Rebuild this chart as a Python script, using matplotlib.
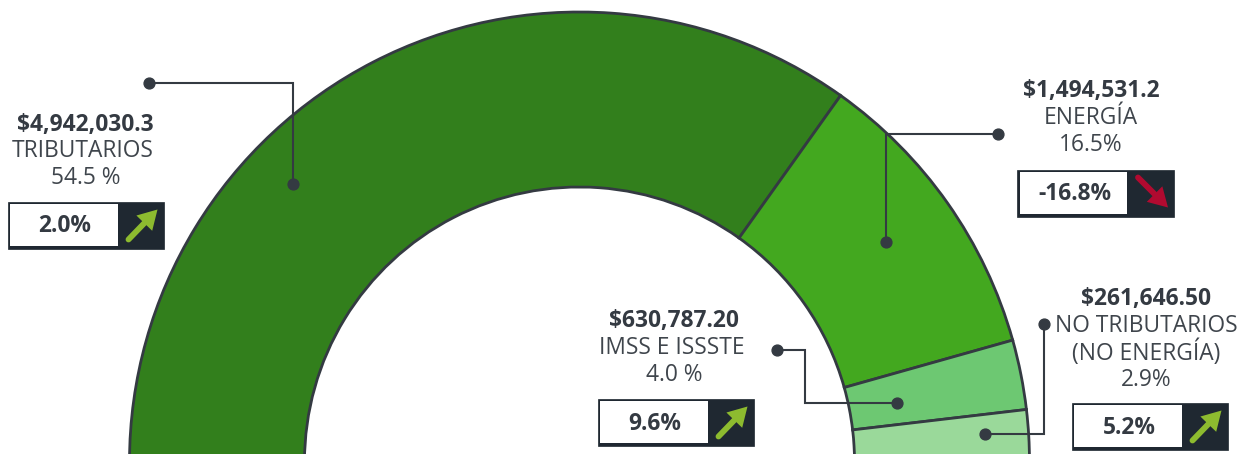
import matplotlib
matplotlib.use('Agg')
import matplotlib.pyplot as plt
import numpy as np
from matplotlib.patches import Rectangle

plt.rcParams['font.family'] = ['Open Sans', 'DejaVu Sans']

# Data
names = ['TRIBUTARIOS', 'ENERGÍA', 'IMSS E ISSSTE', 'NO TRIBUTARIOS\n(NO ENERGÍA)']
amounts = ['$4,942,030.3', '$1,494,531.2', '$630,787.20', '$261,646.50']
shares = [54.3, 16.8, 3.9, 2.9]
share_labels = ['54.5 %', '16.5%', '4.0 %', '2.9%']
changes = ['2.0%', '-16.8%', '9.6%', '5.2%']
colors = ['#327F1C', '#43A81F', '#6DC872', '#9AD99A']

INK = '#343A42'
SOFT = '#3F454C'
BOX = '#1F2831'
UP = '#8DBB2F'
DOWN = '#B10A30'

fig = plt.figure(figsize=(12.4, 4.54), dpi=100)
ax = fig.add_axes([0, 0, 1, 1])


def Y(y):
    # picture rows count from the top
    return 454 - y


# half doughnut, the other half of the pie is hidden
wedges, _ = ax.pie(shares + [sum(shares)], colors=colors + ['none'], startangle=180,
                   counterclock=False, center=(579.5, Y(462)), radius=450, frame=True,
                   wedgeprops=dict(width=175, edgecolor=INK, linewidth=2.0))
wedges[-1].set_visible(False)

ax.set_xlim(0, 1240)
ax.set_ylim(0, 454)
ax.set_aspect('equal')
ax.axis('off')


def leader(xs, ys):
    ax.plot(xs, [Y(v) for v in ys], color=INK, lw=1.5, zorder=5, solid_joinstyle='miter')
    ax.plot([xs[0], xs[-1]], [Y(ys[0]), Y(ys[-1])], ls='none', marker='o', ms=7.8,
            color=INK, zorder=6)


leader([149, 292.5, 292.5], [83, 83, 184])
leader([998, 886, 886], [134, 134, 242])
leader([777, 805, 805, 897], [350, 350, 403, 403])
leader([1044, 1044, 985], [324, 434, 434])


def label(cx, ytop, amount, name, share, name_dx=0):
    ax.text(cx, Y(ytop + 2.5), amount, ha='center', va='center', fontsize=16.4, fontweight='bold', color=INK)
    lines = name.split('\n')
    y = ytop + 29
    for line in lines:
        ax.text(cx + name_dx, Y(y), line, ha='center', va='center', fontsize=16.4, color=SOFT)
        y += 27
    ax.text(cx, Y(y), share, ha='center', va='center', fontsize=16.4, color=SOFT)


label(85.5, 122, amounts[0], names[0], share_labels[0], name_dx=-2.5)
label(1091, 89, amounts[1], names[1], share_labels[1])
label(674, 319, amounts[2], names[2], share_labels[2], name_dx=-2.5)
label(1146, 297, amounts[3], names[3], share_labels[3])


def arrow(start, end, col):
    # round-ended shaft plus a triangular head, in pixels of the picture
    p0 = np.array([start[0], Y(start[1])], dtype=float)
    p1 = np.array([end[0], Y(end[1])], dtype=float)
    unit = (p1 - p0) / np.hypot(*(p1 - p0))
    side = np.array([-unit[1], unit[0]])
    base = p1 - unit * 19
    ax.plot([p0[0], base[0]], [p0[1], base[1]], color=col, lw=4.2, solid_capstyle='round', zorder=6)
    head = np.array([p1, base + side * 11, base - side * 11])
    ax.fill(head[:, 0], head[:, 1], color=col, lw=0, zorder=6)


def badge(x0, y0, text, up=True):
    # white box with the change, dark square with the arrow
    ax.add_patch(Rectangle((x0, Y(y0 + 47)), 156.5, 47, fc=BOX, ec=BOX, lw=0.5, zorder=3))
    ax.add_patch(Rectangle((x0 + 2.5, Y(y0 + 44.5)), 107.5, 42, fc='white', ec='none', zorder=4))
    ax.text(x0 + 57.5, Y(y0 + 25), text, ha='center', va='center', fontsize=16.4,
            fontweight='bold', color=INK, zorder=5)
    if up:
        arrow((x0 + 121, y0 + 38), (x0 + 150, y0 + 8), UP)
    else:
        arrow((x0 + 121, y0 + 8), (x0 + 151, y0 + 38), DOWN)


badge(7.5, 201.5, changes[0])
badge(1017, 169.5, changes[1], up=False)
badge(597.5, 398.5, changes[2])
badge(1071.5, 402.5, changes[3])

fig.savefig('out.png', dpi=100)
